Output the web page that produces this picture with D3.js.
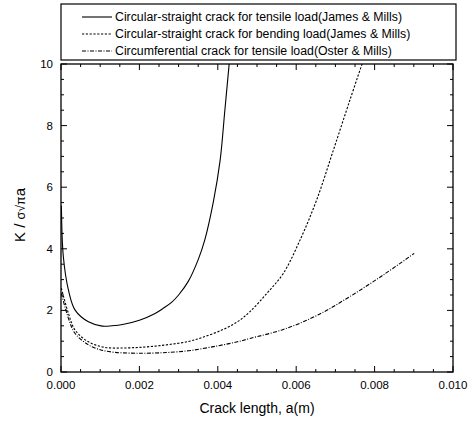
<!DOCTYPE html>
<html lang="en">
  <head>
    <meta charset="UTF-8" />
    <title>Crack K factor</title>
    <script src="https://d3js.org/d3.v7.min.js"></script>
    <style>
      body {
        margin: 0;
        background: #fff;
      }
      svg text {
        font-family: "Liberation Sans", Arial, sans-serif;
        fill: #000;
      }
      .curve {
        fill: none;
        stroke: #000;
        stroke-width: 1.1px;
      }
    </style>
  </head>
  <body>
    <div id="chart"></div>
    <script>
      // series: [crack length a (m), K / sigma sqrt(pi a)]
      var tensileJM = [
        [0.00001, 5.4], [0.00006, 3.74], [0.00019, 2.66], [0.00036, 2.01],
        [0.0007, 1.63], [0.00105, 1.49], [0.0013, 1.5], [0.0016, 1.55],
        [0.002, 1.68], [0.0024, 1.9], [0.0026, 2.06], [0.00282, 2.26],
        [0.003, 2.5], [0.00325, 2.95], [0.0035, 3.65], [0.00367, 4.3],
        [0.00389, 5.55], [0.00406, 6.88], [0.00418, 8.5], [0.00429, 10]
      ];
      var bendingJM = [
        [0.00001, 2.72], [0.00019, 1.9], [0.00036, 1.36], [0.0007, 0.98],
        [0.00112, 0.8], [0.0016, 0.78], [0.002, 0.8], [0.0024, 0.84],
        [0.0028, 0.9], [0.00325, 0.99], [0.0036, 1.12], [0.0041, 1.36],
        [0.0045, 1.63], [0.00482, 1.96], [0.00525, 2.55], [0.00567, 3.2],
        [0.0061, 4.29], [0.00652, 5.58], [0.00695, 7.21], [0.00737, 8.83],
        [0.00768, 10]
      ];
      var circumOM = [
        [0.00001, 2.55], [0.00019, 1.74], [0.00036, 1.25], [0.0007, 0.88],
        [0.001, 0.72], [0.00136, 0.64], [0.00189, 0.61], [0.0025, 0.62],
        [0.00325, 0.69], [0.004, 0.85], [0.0045, 0.98], [0.00482, 1.09],
        [0.00567, 1.38], [0.00652, 1.83], [0.00737, 2.45], [0.00822, 3.15],
        [0.00901, 3.85]
      ];

      var legendLabels = [
        "Circular-straight crack for tensile load(James & Mills)",
        "Circular-straight crack for bending load(James & Mills)",
        "Circumferential crack for tensile load(Oster & Mills)"
      ];
      var dashes = [null, "2.2,1.6", "4,1.5,1,1.5"];

      var xTicks = [0, 0.002, 0.004, 0.006, 0.008, 0.01];
      var yTicks = [0, 2, 4, 6, 8, 10];

      var W = 474, H = 422;
      var margin = { top: 64, right: 21, bottom: 50, left: 61 };
      var width = W - margin.left - margin.right,
        height = H - margin.top - margin.bottom;

      var svg = d3
        .select("#chart")
        .append("svg")
        .attr("width", W)
        .attr("height", H);

      var g = svg
        .append("g")
        .attr("transform", "translate(" + margin.left + "," + margin.top + ")");

      var x = d3.scaleLinear().domain([0, 0.01]).range([0, width]);
      var y = d3.scaleLinear().domain([0, 10]).range([height, 0]);

      g.append("clipPath")
        .attr("id", "clip")
        .append("rect")
        .attr("width", width)
        .attr("height", height);

      // minor + major ticks, inside, on all four sides
      var xMinor = d3.range(0, 0.01001, 0.0005);
      var yMinor = d3.range(0, 10.01, 0.5);

      function isMajor(v, step) {
        return Math.abs(v / step - Math.round(v / step)) < 1e-6;
      }

      var ticks = g.append("g").attr("stroke", "#000").attr("stroke-width", 1);
      xMinor.forEach(function (v) {
        var len = isMajor(v, 0.002) ? 6 : 3;
        ticks.append("line")
          .attr("x1", x(v)).attr("x2", x(v))
          .attr("y1", height).attr("y2", height - len);
        ticks.append("line")
          .attr("x1", x(v)).attr("x2", x(v))
          .attr("y1", 0).attr("y2", len);
      });
      yMinor.forEach(function (v) {
        var len = isMajor(v, 2) ? 6 : 3;
        ticks.append("line")
          .attr("y1", y(v)).attr("y2", y(v))
          .attr("x1", 0).attr("x2", len);
        ticks.append("line")
          .attr("y1", y(v)).attr("y2", y(v))
          .attr("x1", width).attr("x2", width - len);
      });

      g.append("rect")
        .attr("width", width)
        .attr("height", height)
        .attr("fill", "none")
        .attr("stroke", "#000")
        .attr("stroke-width", 1.3);

      // tick labels
      g.selectAll(".xl")
        .data(xTicks)
        .enter()
        .append("text")
        .attr("x", function (d) { return x(d); })
        .attr("y", height + 17)
        .attr("text-anchor", "middle")
        .attr("font-size", 11.5)
        .text(function (d) { return d3.format(".3f")(d); });

      g.selectAll(".yl")
        .data(yTicks)
        .enter()
        .append("text")
        .attr("x", -8)
        .attr("y", function (d) { return y(d) + 4; })
        .attr("text-anchor", "end")
        .attr("font-size", 11.5)
        .text(function (d) { return d; });

      // axis titles
      svg.append("text")
        .attr("x", margin.left + width / 2)
        .attr("y", 413)
        .attr("text-anchor", "middle")
        .attr("font-size", 14)
        .text("Crack length, a(m)");

      var yt = svg.append("text")
        .attr("transform", "translate(25,215) rotate(-90)")
        .attr("text-anchor", "middle")
        .attr("font-size", 15);
      yt.append("tspan").text("K / ");
      yt.append("tspan").attr("font-size", 12.5).text("σ√π");
      yt.append("tspan").text("a");

      // curves
      var line = d3
        .line()
        .x(function (d) { return x(d[0]); })
        .y(function (d) { return y(d[1]); })
        .curve(d3.curveCatmullRom.alpha(0.5));

      var series = [tensileJM, bendingJM, circumOM];
      g.append("g")
        .attr("clip-path", "url(#clip)")
        .selectAll("path")
        .data(series)
        .enter()
        .append("path")
        .attr("class", "curve")
        .attr("d", line)
        .attr("stroke-dasharray", function (d, i) { return dashes[i]; });

      // legend
      var leg = svg.append("g");
      leg.append("rect")
        .attr("x", 61)
        .attr("y", 4)
        .attr("width", 395)
        .attr("height", 56)
        .attr("fill", "#fff")
        .attr("stroke", "#000")
        .attr("stroke-width", 1.2);

      legendLabels.forEach(function (t, i) {
        var ly = 17 + i * 17;
        leg.append("line")
          .attr("x1", 82).attr("x2", 112)
          .attr("y1", ly).attr("y2", ly)
          .attr("stroke", "#000")
          .attr("stroke-width", 1.1)
          .attr("stroke-dasharray", dashes[i]);
        leg.append("text")
          .attr("x", 115)
          .attr("y", ly + 4)
          .attr("font-size", 12.3)
          .text(t);
      });
    </script>
  </body>
</html>
